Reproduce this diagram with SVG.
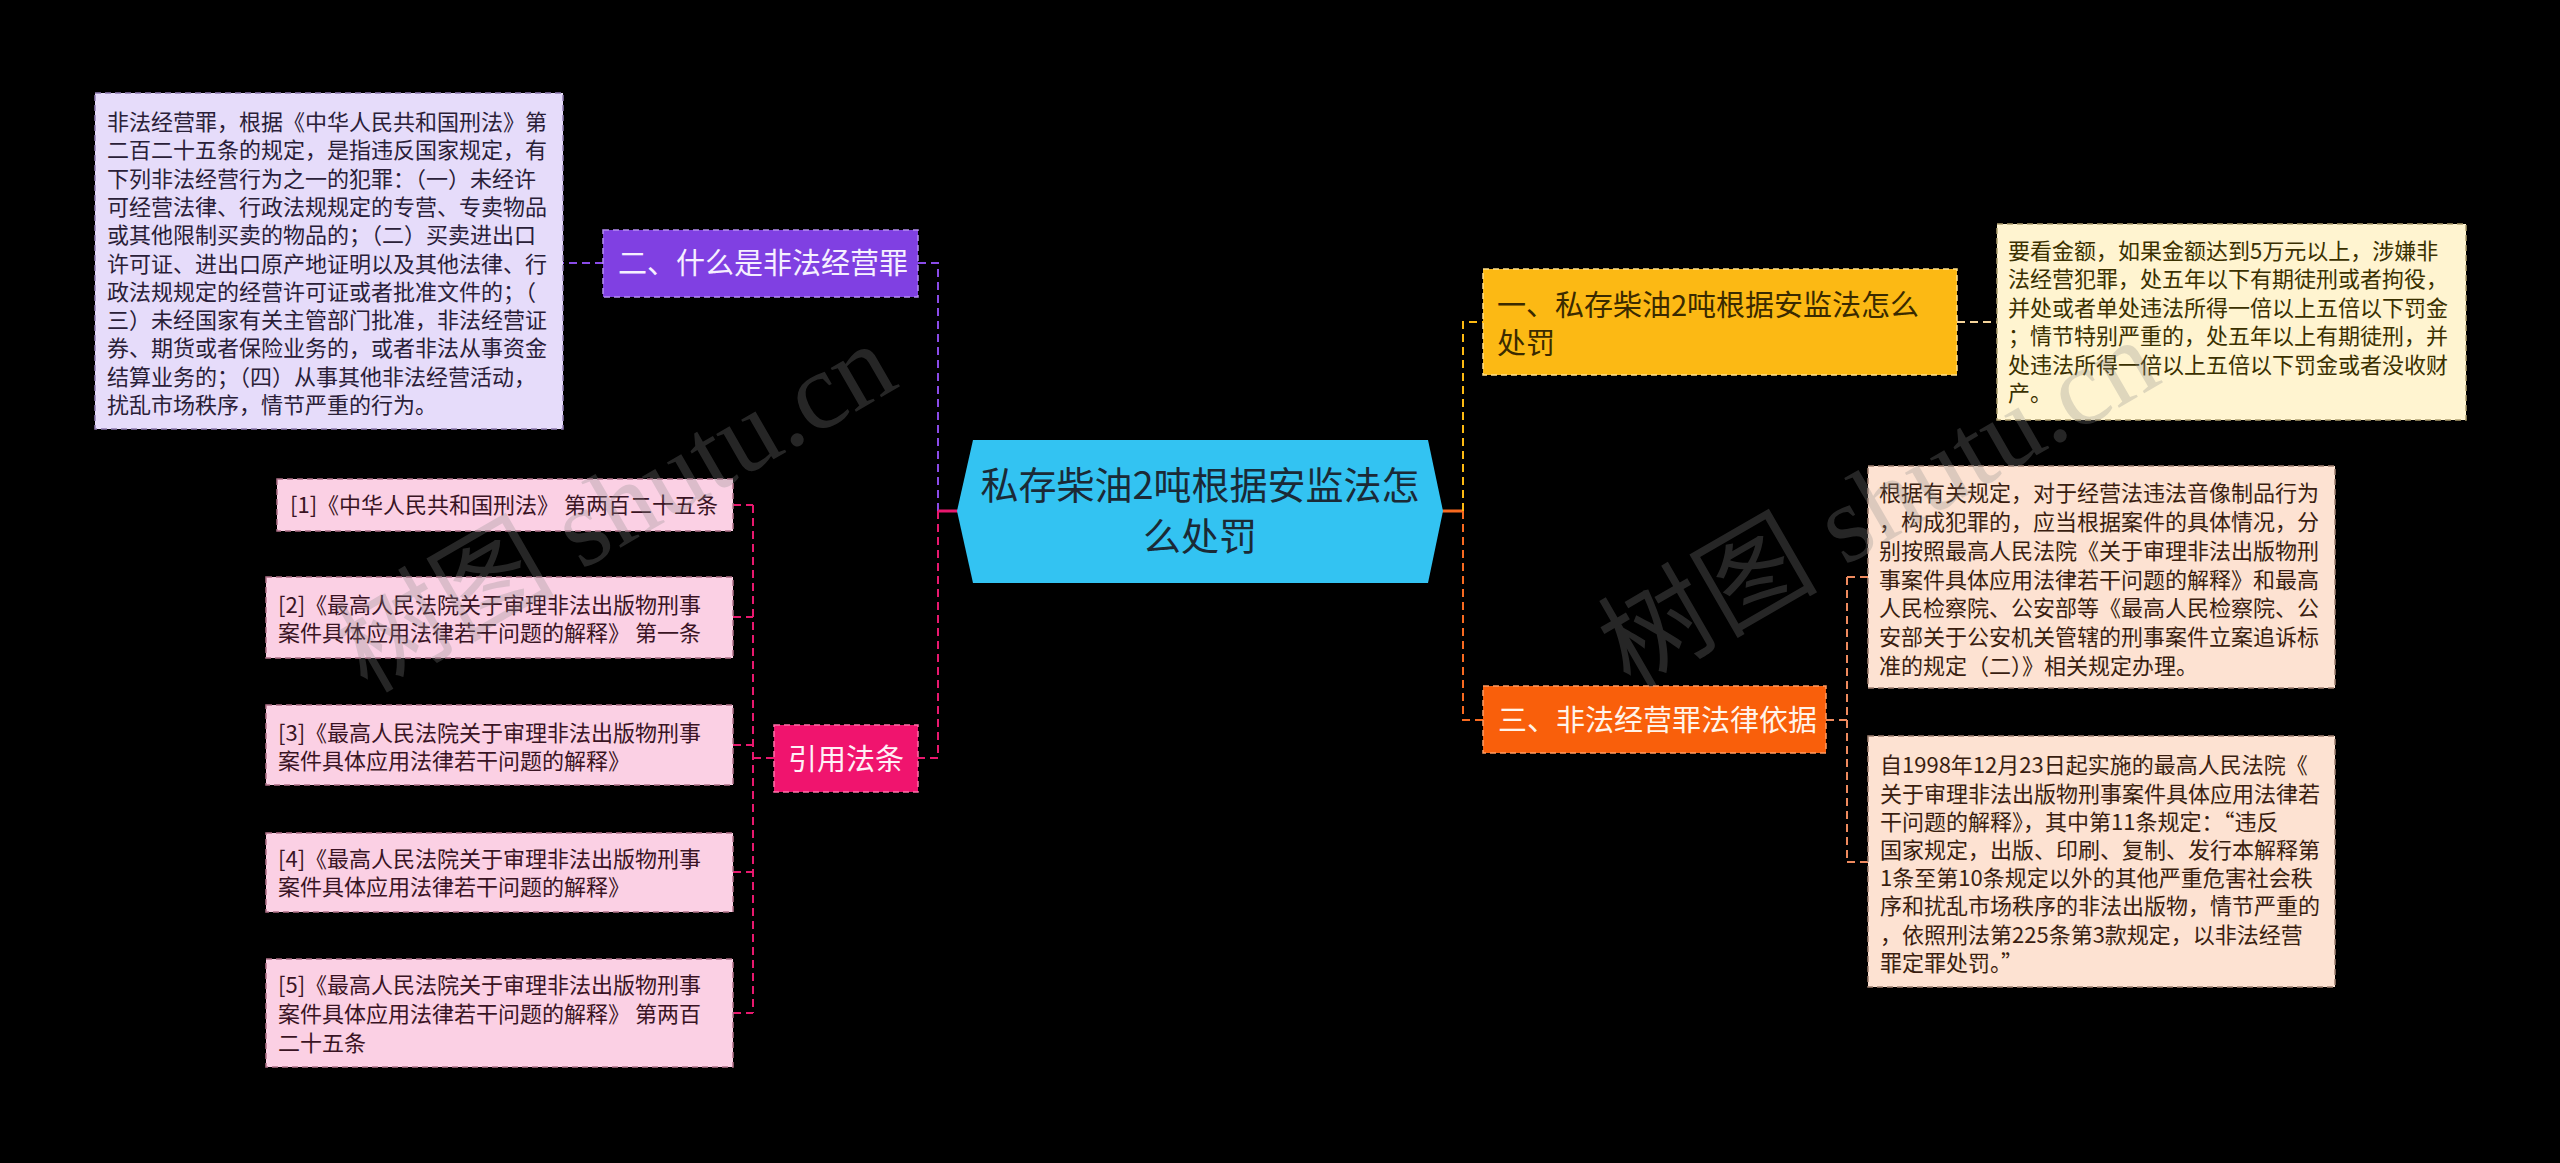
<svg xmlns="http://www.w3.org/2000/svg" width="2560" height="1163" viewBox="0 0 2560 1163">
<style>
text{font-family:"Noto Sans CJK SC","Noto Sans",sans-serif}
.b{font-size:22px}
.n{font-size:29px}
.c{stroke-width:2;fill:none;stroke-dasharray:8 5}
.box{stroke-width:1.5;stroke-dasharray:6 4}
.wm{font-family:"Liberation Serif","Noto Sans CJK SC",serif;font-size:110px;fill:#8a8a8a;opacity:0.28}
</style>
<rect width="2560" height="1163" fill="#000"/>
<g id="connectors">
<path class="c" stroke="#8A4BE8" d="M938,511 V263 H918"/>
<path class="c" stroke="#8A4BE8" d="M603,263 H563"/>
<path class="c" stroke="#E8186E" d="M938,511 V758 H918"/>
<path class="c" stroke="#E8186E" d="M774,758 H753 M753,505 V1013 M733,505 H753 M733,617 H753 M733,745 H753 M733,872 H753 M733,1013 H753"/>
<path stroke="#E8186E" stroke-width="3" d="M938,511 H958"/>
<path stroke="#F86A20" stroke-width="3" d="M1442,511 H1463"/>
<path class="c" stroke="#FDBA12" d="M1463,511 V322 H1483"/>
<path class="c" stroke="#F5D49A" d="M1957,322 H1997"/>
<path class="c" stroke="#F86A20" d="M1463,511 V720 H1483"/>
<path class="c" stroke="#EE8A5E" d="M1826,720 H1847 M1847,577 V862 M1847,577 H1868 M1847,862 H1868"/>
</g>
<g id="center">
<polygon points="973,440 1428,440 1443,511 1428,583 973,583 957,511" fill="#33C3F2"/>
<text x="1200" y="499" text-anchor="middle" font-size="38" fill="#1b2a36">私存柴油2吨根据安监法怎</text>
<text x="1200" y="550" text-anchor="middle" font-size="38" fill="#1b2a36">么处罚</text>
</g>
<g id="node-what">
<rect x="603" y="230" width="315" height="67" fill="#8040E2" stroke="#B48CF2" class="box"/>
<text x="618" y="274" class="n" fill="#F6F0FF">二、什么是非法经营罪</text>
</g>
<g id="node-what-detail">
<rect x="95" y="93" width="468" height="336" fill="#E6DCFA" stroke="#8E7AB0" class="box"/>
<g class="b" fill="#2A2038">
<text x="107" y="130">非法经营罪，根据《中华人民共和国刑法》第</text>
<text x="107" y="158.3">二百二十五条的规定，是指违反国家规定，有</text>
<text x="107" y="186.6">下列非法经营行为之一的犯罪：（一）未经许</text>
<text x="107" y="214.9">可经营法律、行政法规规定的专营、专卖物品</text>
<text x="107" y="243.2">或其他限制买卖的物品的；（二）买卖进出口</text>
<text x="107" y="271.5">许可证、进出口原产地证明以及其他法律、行</text>
<text x="107" y="299.8">政法规规定的经营许可证或者批准文件的；（</text>
<text x="107" y="328.1">三）未经国家有关主管部门批准，非法经营证</text>
<text x="107" y="356.4">券、期货或者保险业务的，或者非法从事资金</text>
<text x="107" y="384.7">结算业务的；（四）从事其他非法经营活动，</text>
<text x="107" y="413">扰乱市场秩序，情节严重的行为。</text>
</g>
</g>
<g id="node-cite">
<rect x="774" y="725" width="144" height="67" fill="#F0146E" stroke="#FF6FA8" class="box"/>
<text x="846" y="770" class="n" text-anchor="middle" fill="#FFF0F6">引用法条</text>
</g>
<g id="ref1">
<rect x="277" y="479" width="456" height="52" fill="#FBD0E4" stroke="#B07088" class="box"/>
<text x="290" y="513" class="b" fill="#3A1424">[1]《中华人民共和国刑法》 第两百二十五条</text>
</g>
<g id="ref2">
<rect x="266" y="577" width="467" height="81" fill="#FBD0E4" stroke="#B07088" class="box"/>
<text x="278" y="613" class="b" fill="#3A1424">[2]《最高人民法院关于审理非法出版物刑事</text>
<text x="278" y="641" class="b" fill="#3A1424">案件具体应用法律若干问题的解释》 第一条</text>
</g>
<g id="ref3">
<rect x="266" y="705" width="467" height="80" fill="#FBD0E4" stroke="#B07088" class="box"/>
<text x="278" y="741" class="b" fill="#3A1424">[3]《最高人民法院关于审理非法出版物刑事</text>
<text x="278" y="769" class="b" fill="#3A1424">案件具体应用法律若干问题的解释》</text>
</g>
<g id="ref4">
<rect x="266" y="833" width="467" height="79" fill="#FBD0E4" stroke="#B07088" class="box"/>
<text x="278" y="867" class="b" fill="#3A1424">[4]《最高人民法院关于审理非法出版物刑事</text>
<text x="278" y="895" class="b" fill="#3A1424">案件具体应用法律若干问题的解释》</text>
</g>
<g id="ref5">
<rect x="266" y="959" width="467" height="108" fill="#FBD0E4" stroke="#B07088" class="box"/>
<text x="278" y="993" class="b" fill="#3A1424">[5]《最高人民法院关于审理非法出版物刑事</text>
<text x="278" y="1022" class="b" fill="#3A1424">案件具体应用法律若干问题的解释》 第两百</text>
<text x="278" y="1051" class="b" fill="#3A1424">二十五条</text>
</g>
<g id="node-one">
<rect x="1483" y="269" width="474" height="106" fill="#FCB914" stroke="#FFE08A" class="box"/>
<text x="1497" y="316" class="n" fill="#3A2A00">一、私存柴油2吨根据安监法怎么</text>
<text x="1497" y="354" class="n" fill="#3A2A00">处罚</text>
</g>
<g id="node-one-detail">
<rect x="1997" y="224" width="469" height="196" fill="#FFF4D0" stroke="#B0A070" class="box"/>
<g class="b" fill="#3A3000">
<text x="2008" y="258.5">要看金额，如果金额达到5万元以上，涉嫌非</text>
<text x="2008" y="287">法经营犯罪，处五年以下有期徒刑或者拘役，</text>
<text x="2008" y="315.5">并处或者单处违法所得一倍以上五倍以下罚金</text>
<text x="2008" y="344">；情节特别严重的，处五年以上有期徒刑，并</text>
<text x="2008" y="372.5">处违法所得一倍以上五倍以下罚金或者没收财</text>
<text x="2008" y="401">产。</text>
</g>
</g>
<g id="node-three">
<rect x="1483" y="686" width="343" height="67" fill="#F95F0B" stroke="#FF9A60" class="box"/>
<text x="1498" y="731" class="n" fill="#FFF4EA">三、非法经营罪法律依据</text>
</g>
<g id="node-three-detail1">
<rect x="1868" y="466" width="467" height="222" fill="#FDE2D2" stroke="#A08070" class="box"/>
<g class="b" fill="#3A1E10">
<text x="1879" y="501.4">根据有关规定，对于经营法违法音像制品行为</text>
<text x="1879" y="530.1">，构成犯罪的，应当根据案件的具体情况，分</text>
<text x="1879" y="558.8">别按照最高人民法院《关于审理非法出版物刑</text>
<text x="1879" y="587.5">事案件具体应用法律若干问题的解释》和最高</text>
<text x="1879" y="616.2">人民检察院、公安部等《最高人民检察院、公</text>
<text x="1879" y="644.9">安部关于公安机关管辖的刑事案件立案追诉标</text>
<text x="1879" y="673.6">准的规定（二）》相关规定办理。</text>
</g>
</g>
<g id="node-three-detail2">
<rect x="1868" y="736" width="467" height="251" fill="#FDE2D2" stroke="#A08070" class="box"/>
<g class="b" fill="#3A1E10">
<text x="1880" y="773.4">自1998年12月23日起实施的最高人民法院《</text>
<text x="1880" y="801.6">关于审理非法出版物刑事案件具体应用法律若</text>
<text x="1880" y="829.8">干问题的解释》，其中第11条规定：“违反</text>
<text x="1880" y="858">国家规定，出版、印刷、复制、发行本解释第</text>
<text x="1880" y="886.2">1条至第10条规定以外的其他严重危害社会秩</text>
<text x="1880" y="914.4">序和扰乱市场秩序的非法出版物，情节严重的</text>
<text x="1880" y="942.6">，依照刑法第225条第3款规定，以非法经营</text>
<text x="1880" y="970.8">罪定罪处罚。”</text>
</g>
</g>
<g id="watermark">
<text class="wm" transform="translate(367,694) rotate(-30)">树图 shutu.cn</text>
<text class="wm" transform="translate(1630,690) rotate(-30)">树图 shutu.cn</text>
</g>
</svg>
